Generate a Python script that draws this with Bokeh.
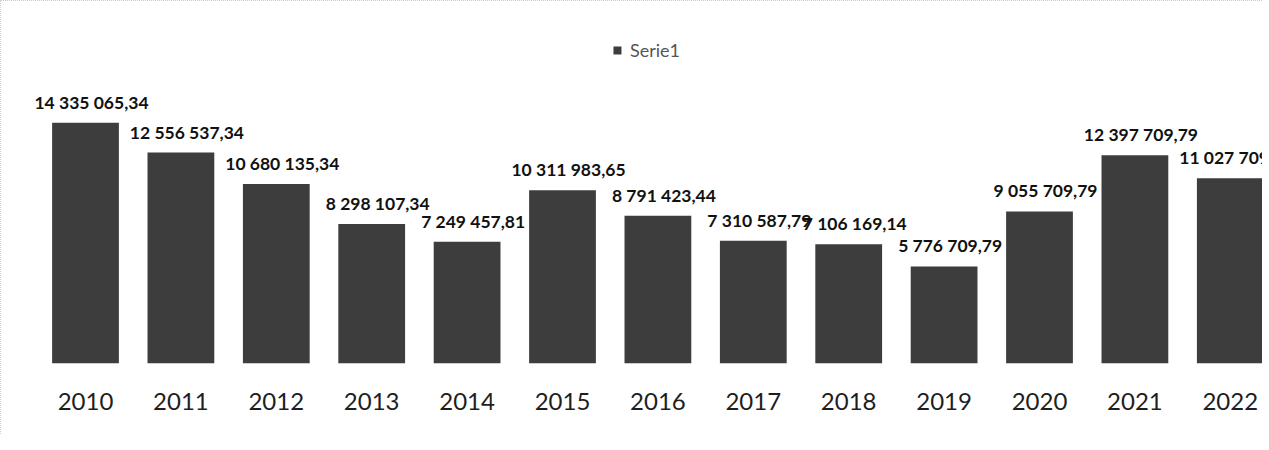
from bokeh.plotting import figure
from bokeh.models import ColumnDataSource, Range1d, FixedTicker, Legend, LegendItem
from bokeh.core.properties import value
from bokeh.embed import file_html
from bokeh.resources import INLINE

years = ["2010", "2011", "2012", "2013", "2014", "2015", "2016",
         "2017", "2018", "2019", "2020", "2021", "2022"]
values = [14335065.34, 12556537.34, 10680135.34, 8298107.34, 7249457.81,
          10311983.65, 8791423.44, 7310587.79, 7106169.14, 5776709.79,
          9055709.79, 12397709.79, 11027709.79]
labels = ["14 335 065,34", "12 556 537,34", "10 680 135,34", "8 298 107,34",
          "7 249 457,81", "10 311 983,65", "8 791 423,44", "7 310 587,79",
          "7 106 169,14", "5 776 709,79", "9 055 709,79", "12 397 709,79",
          "11 027 709,79"]
series_name = "Serie1"

idx = list(range(len(years)))
src = ColumnDataSource(dict(x=idx, top=values, lab=labels))

p = figure(width=1262, height=434, output_backend="svg", toolbar_location=None,
           x_range=Range1d(-0.587, 12.348), y_range=Range1d(0, 20360000),
           min_border_left=28, min_border_right=0, min_border_top=20,
           min_border_bottom=72)
p.outline_line_color = None
p.background_fill_color = "white"
p.border_fill_color = "white"
p.styles = {"border-top": "1px dotted #c8c8c8", "border-left": "1px dotted #d0d0d0"}

r = p.vbar(x="x", top="top", width=0.70, source=src, fill_color="#3d3d3d",
           line_color=None)

p.text(x="x", y="top", text="lab", source=src, text_align="center",
       text_baseline="bottom", x_offset=6, y_offset=-10, text_font=value("Lato"),
       text_font_style="bold", text_font_size="17.5px", text_color="#111111")

p.xgrid.visible = False
p.ygrid.visible = False
p.yaxis.visible = False
p.xaxis.ticker = FixedTicker(ticks=idx)
p.xaxis.major_label_overrides = {i: y for i, y in zip(idx, years)}
p.xaxis.axis_line_color = None
p.xaxis.major_tick_line_color = None
p.xaxis.minor_tick_line_color = None
p.xaxis.major_label_standoff = 23
p.xaxis.major_label_text_font = "Lato"
p.xaxis.major_label_text_font_style = "normal"
p.xaxis.major_label_text_font_size = "24px"
p.xaxis.major_label_text_color = "#1e1e1e"

legend = Legend(items=[LegendItem(label=series_name, renderers=[r])],
                location="top_center", orientation="horizontal",
                border_line_color=None, background_fill_alpha=0,
                label_text_font="Lato", label_text_font_size="18px",
                label_text_color="#555555", glyph_width=10, glyph_height=10,
                margin=18, padding=0, label_standoff=8)
p.add_layout(legend)

open("out.html", "w").write(file_html(p, INLINE))
